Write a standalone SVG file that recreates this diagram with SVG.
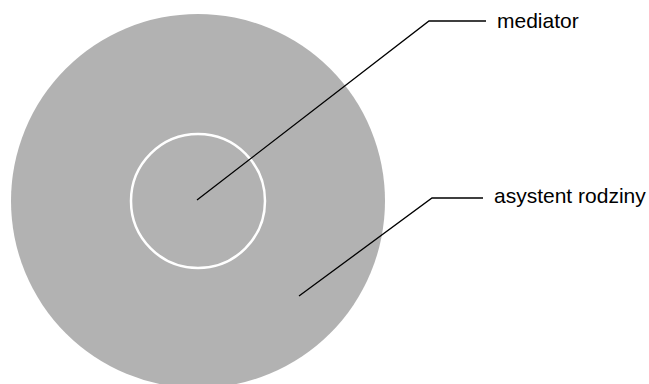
<svg xmlns="http://www.w3.org/2000/svg" width="649" height="384" viewBox="0 0 649 384">
<style>
.lbl{font-family:"Liberation Sans",Arial,sans-serif;font-size:21px;fill:#000}
.ln{fill:none;stroke:#000;stroke-width:1.3}
</style>
<rect width="649" height="384" fill="#fff"/>
<g id="asystent">
<circle cx="198" cy="201" r="187" fill="#b2b2b2"/>
</g>
<g id="mediator">
<circle cx="198" cy="201" r="67" fill="none" stroke="#fff" stroke-width="2.5"/>
</g>
<g id="connectors">
<polyline class="ln" points="197,200 429,21 486,21"/>
<polyline class="ln" points="299,296 432,198 483,198"/>
</g>
<g id="labels">
<text class="lbl" x="497" y="28">mediator</text>
<text class="lbl" x="494" y="203">asystent rodziny</text>
</g>
</svg>
